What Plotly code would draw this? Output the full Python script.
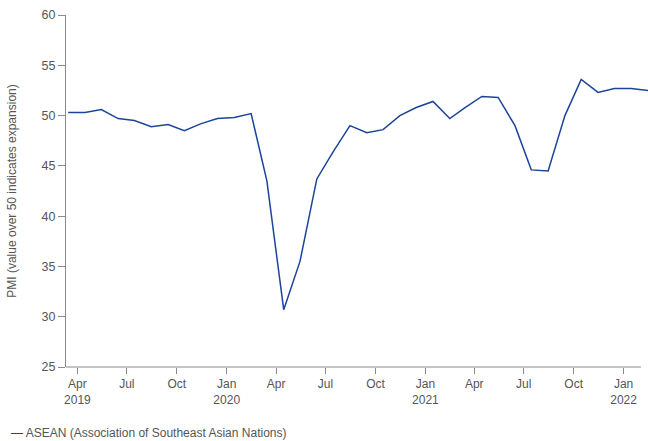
import plotly.graph_objects as go

# Monthly PMI, Mar 2019 - Feb 2022 (plotted mid-month)
meses = [
    "2019-03-15", "2019-04-15", "2019-05-15", "2019-06-15", "2019-07-15", "2019-08-15",
    "2019-09-15", "2019-10-15", "2019-11-15", "2019-12-15",
    "2020-01-15", "2020-02-15", "2020-03-15", "2020-04-15", "2020-05-15", "2020-06-15",
    "2020-07-15", "2020-08-15", "2020-09-15", "2020-10-15", "2020-11-15", "2020-12-15",
    "2021-01-15", "2021-02-15", "2021-03-15", "2021-04-15", "2021-05-15", "2021-06-15",
    "2021-07-15", "2021-08-15", "2021-09-15", "2021-10-15", "2021-11-15", "2021-12-15",
    "2022-01-15", "2022-02-15",
]
pmi_asean = [
    50.3, 50.3, 50.6, 49.7, 49.5, 48.9, 49.1, 48.5, 49.2, 49.7,
    49.8, 50.2, 43.5, 30.7, 35.5, 43.7, 46.4, 49.0, 48.3, 48.6, 50.0, 50.8,
    51.4, 49.7, 50.8, 51.9, 51.8, 49.0, 44.6, 44.5, 50.0, 53.6, 52.3, 52.7,
    52.7, 52.5,
]
serie = "ASEAN (Association of Southeast Asian Nations)"

tick_fechas = [
    "2019-04-01", "2019-07-01", "2019-10-01", "2020-01-01", "2020-04-01", "2020-07-01",
    "2020-10-01", "2021-01-01", "2021-04-01", "2021-07-01", "2021-10-01", "2022-01-01",
]
tick_textos = [
    "Apr<br>2019", "Jul", "Oct", "Jan<br>2020", "Apr", "Jul",
    "Oct", "Jan<br>2021", "Apr", "Jul", "Oct", "Jan<br>2022",
]

AZUL = "#1c4599"
GRIS_EJE = "#8a8a8a"
GRIS_TXT = "#555555"

fig = go.Figure()
fig.add_trace(go.Scatter(
    x=meses, y=pmi_asean, mode="lines", name=serie,
    line=dict(color=AZUL, width=1.5), showlegend=False,
))

fig.update_layout(
    width=648, height=441,
    margin=dict(l=66, r=0, t=15, b=74),
    plot_bgcolor="white", paper_bgcolor="white",
    font=dict(family="Liberation Sans, Arial, sans-serif", size=12, color=GRIS_TXT),
    xaxis=dict(
        range=["2019-03-11", "2022-02-15"],
        tickvals=tick_fechas, ticktext=tick_textos,
        ticks="outside", ticklen=6, tickcolor=GRIS_EJE, tickwidth=1,
        showline=False, showgrid=False, zeroline=False,
        tickfont=dict(size=12, color=GRIS_TXT),
    ),
    yaxis=dict(
        range=[25, 60], dtick=5,
        ticks="outside", ticklen=7, tickcolor=GRIS_EJE, tickwidth=1,
        showline=True, linecolor=GRIS_EJE, linewidth=1,
        showgrid=False, zeroline=False,
        tickfont=dict(size=12.5, color=GRIS_TXT),
        title=dict(text="PMI (value over 50 indicates expansion)",
                   font=dict(size=12, color=GRIS_TXT), standoff=22),
    ),
)

# Eje x: termina a principios de feb 2022 aunque la serie sigue hasta el borde.
fig.add_shape(type="line", xref="x", yref="paper",
              x0="2019-03-11", x1="2022-02-02", y0=0, y1=0,
              line=dict(color=GRIS_EJE, width=1))

# Leyenda abajo a la izquierda.
fig.add_annotation(
    xref="paper", yref="paper", x=-0.098, y=-0.188, xanchor="left", yanchor="middle",
    text=f"<span style='color:{AZUL}'>—</span> {serie}", showarrow=False,
    font=dict(size=12, color=GRIS_TXT),
)

fig.write_html("out.html", config={"displayModeBar": False},
               post_script="document.body.style.margin='0px';")
